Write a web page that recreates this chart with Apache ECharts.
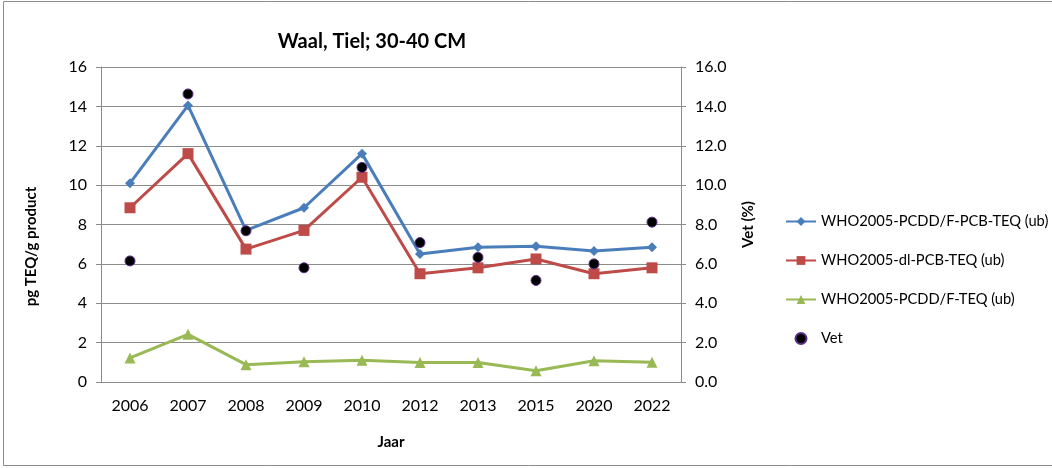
<!DOCTYPE html>
<html>
<head>
<meta charset="utf-8">
<script src="https://cdn.jsdelivr.net/npm/echarts@6/dist/echarts.min.js"></script>
<style>
  html, body { margin: 0; padding: 0; background: #fff; }
  #chart { width: 1052px; height: 468px; }
</style>
</head>
<body>
<div id="chart"></div>
<script>
// Sampling years along the category axis
const years = ['2006', '2007', '2008', '2009', '2010', '2012', '2013', '2015', '2020', '2022'];

// TEQ values (pg TEQ/g product)
const totalTeq = [10.1, 14.05, 7.7, 8.85, 11.6, 6.5, 6.85, 6.9, 6.65, 6.85];
const dlPcbTeq = [8.85, 11.6, 6.75, 7.7, 10.4, 5.5, 5.8, 6.25, 5.5, 5.8];
const pcddfTeq = [1.22, 2.42, 0.88, 1.03, 1.1, 0.99, 0.99, 0.57, 1.08, 1.0];

// Fat content (%)
const vet = [6.15, 14.63, 7.68, 5.8, 10.9, 7.08, 6.33, 5.16, 6.0, 8.12];

const seriesNames = [
  'WHO2005-PCDD/F-PCB-TEQ (ub)',
  'WHO2005-dl-PCB-TEQ (ub)',
  'WHO2005-PCDD/F-TEQ (ub)',
  'Vet'
];

const FONT = 'Lato, "Open Sans", sans-serif';
const chart = echarts.init(document.getElementById('chart'), null, { renderer: 'canvas' });

const axisGray = '#8c8c8c';

chart.setOption({
  animation: false,
  backgroundColor: '#ffffff',
  textStyle: { fontFamily: FONT, color: '#000' },
  title: {
    text: 'Waal, Tiel; 30-40 CM',
    left: 367,
    top: 27,
    textAlign: 'center',
    textStyle: { fontFamily: FONT, fontSize: 20, fontWeight: 'bold', color: '#000' }
  },
  grid: { left: 101, right: 371, top: 67, bottom: 86, containLabel: false },
  legend: {
    orient: 'vertical',
    left: 780,
    top: 209,
    itemWidth: 30,
    itemHeight: 11,
    itemGap: 24,
    textStyle: { fontFamily: FONT, fontSize: 14.7, color: '#000' },
    data: seriesNames
  },
  xAxis: {
    type: 'category',
    data: years,
    boundaryGap: true,
    name: 'Jaar',
    nameLocation: 'middle',
    nameGap: 53,
    nameTextStyle: { fontFamily: FONT, fontSize: 15, fontWeight: 'bold', color: '#000' },
    axisLine: { lineStyle: { color: axisGray, width: 1 } },
    axisTick: { show: false },
    axisLabel: { fontFamily: FONT, fontSize: 16, color: '#000', margin: 16 }
  },
  yAxis: [
    {
      type: 'value',
      min: 0, max: 16, interval: 2,
      name: 'pg TEQ/g product',
      nameLocation: 'middle',
      nameGap: 62,
      nameRotate: 90,
      nameTextStyle: { fontFamily: FONT, fontSize: 15, fontWeight: 'bold', color: '#000', padding: [0, 0, 0, -44] },
      axisLine: { show: true, lineStyle: { color: axisGray, width: 1 } },
      axisTick: { show: true, length: 5, lineStyle: { color: axisGray } },
      axisLabel: { fontFamily: FONT, fontSize: 16, color: '#000', margin: 14 },
      splitLine: { show: true, lineStyle: { color: axisGray, width: 1 } }
    },
    {
      type: 'value',
      min: 0, max: 16, interval: 2,
      name: 'Vet (%)',
      nameLocation: 'middle',
      nameGap: 60,
      nameRotate: 90,
      nameTextStyle: { fontFamily: FONT, fontSize: 15, fontWeight: 'bold', color: '#000' },
      position: 'right',
      axisLine: { show: true, lineStyle: { color: axisGray, width: 1 } },
      axisTick: { show: true, length: 5, lineStyle: { color: axisGray } },
      axisLabel: {
        fontFamily: FONT, fontSize: 16, color: '#000', margin: 14,
        formatter: v => v.toFixed(1)
      },
      splitLine: { show: false }
    }
  ],
  series: [
    {
      name: seriesNames[0],
      type: 'line',
      yAxisIndex: 0,
      data: totalTeq,
      symbol: 'diamond',
      symbolSize: 10,
      lineStyle: { color: '#4a7ebb', width: 3 },
      itemStyle: { color: '#4a7ebb' },
      z: 4
    },
    {
      name: seriesNames[1],
      type: 'line',
      yAxisIndex: 0,
      data: dlPcbTeq,
      symbol: 'rect',
      symbolSize: 11,
      lineStyle: { color: '#be4b48', width: 3 },
      itemStyle: { color: '#be4b48' },
      z: 3
    },
    {
      name: seriesNames[2],
      type: 'line',
      yAxisIndex: 0,
      data: pcddfTeq,
      symbol: 'triangle',
      symbolSize: 11,
      lineStyle: { color: '#98b954', width: 3 },
      itemStyle: { color: '#98b954' },
      z: 3
    },
    {
      name: seriesNames[3],
      type: 'scatter',
      yAxisIndex: 1,
      data: vet,
      symbol: 'circle',
      symbolSize: 10,
      itemStyle: { color: '#000000', borderColor: '#5b2d8a', borderWidth: 1, opacity: 1 },
      z: 5
    }
  ],
  graphic: [
    {
      // outer chart frame; its right edge runs just past the canvas
      type: 'rect',
      shape: { x: 3.5, y: 1.5, width: 1052, height: 464 },
      style: { fill: 'none', stroke: '#8c8c8c', lineWidth: 1 },
      silent: true
    }
  ]
});
</script>
</body>
</html>
